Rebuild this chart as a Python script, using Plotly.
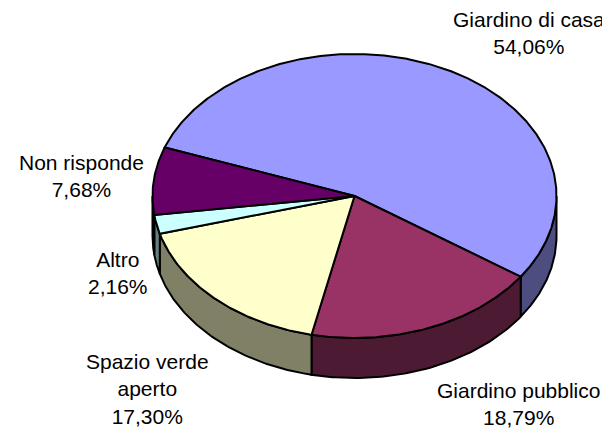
import numpy as np
import plotly.graph_objects as go

categories = ["Giardino di casa", "Giardino pubblico", "Spazio verde<br>aperto", "Altro", "Non risponde"]
values = [54.06, 18.79, 17.30, 2.16, 7.68]
value_labels = ["54,06%", "18,79%", "17,30%", "2,16%", "7,68%"]
top_colors = ["#9999FF", "#993366", "#FFFFCC", "#CCFFFF", "#660066"]
wall_colors = ["#4D4D80", "#4D1A33", "#808066", "#668080", "#330033"]
label_positions = [(529, 33), (518, 404), (147, 389), (118, 273), (81, 176)]

CX, CY, RX, RY, DEPTH = 354.5, 196, 202, 142, 40
START = -70.0


def px(theta):
    return CX + RX * np.sin(np.radians(theta))


def py(theta):
    return CY - RY * np.cos(np.radians(theta))


def trace(xs, ys, fill):
    return go.Scatter(x=xs, y=ys, mode="lines", fill="toself", fillcolor=fill,
                      line=dict(color="black", width=2), hoverinfo="skip", showlegend=False)


fig = go.Figure()
edges = START + np.concatenate([[0], np.cumsum(values)]) * 360 / sum(values)

# side walls first: only the arc portion in the front half (90-270 degrees, modulo 360)
for a, b, col in zip(edges[:-1], edges[1:], wall_colors):
    lo, hi = max(a, 90), min(b, 270)
    if hi > lo:
        t = np.linspace(lo, hi, 80)
        xs = np.concatenate([px(t), px(t[::-1]), [px(t[0])]])
        ys = np.concatenate([py(t), py(t[::-1]) + DEPTH, [py(t[0])]])
        fig.add_trace(trace(xs, ys, col))

# top faces
for a, b, col in zip(edges[:-1], edges[1:], top_colors):
    t = np.linspace(a, b, max(int(b - a) * 2, 12))
    xs = np.concatenate([[CX], px(t), [CX]])
    ys = np.concatenate([[CY], py(t), [CY]])
    fig.add_trace(trace(xs, ys, col))

for cat, lab, (lx, ly) in zip(categories, value_labels, label_positions):
    fig.add_annotation(x=lx, y=ly, text=f"{cat}<br>{lab}", showarrow=False,
                       font=dict(family="Liberation Sans", size=21, color="black"),
                       align="center", xanchor="center", yanchor="middle")

# the page body sits 8 px in from the window's corner, so the plot covers 8..610 / 8..430
fig.update_xaxes(range=[8, 610], visible=False, fixedrange=True)
fig.update_yaxes(range=[430, 8], visible=False, fixedrange=True)
fig.update_layout(width=602, height=422, margin=dict(l=0, r=0, t=0, b=0),
                  paper_bgcolor="white", plot_bgcolor="white", showlegend=False)
fig.write_html("out.html", config={"displayModeBar": False})
